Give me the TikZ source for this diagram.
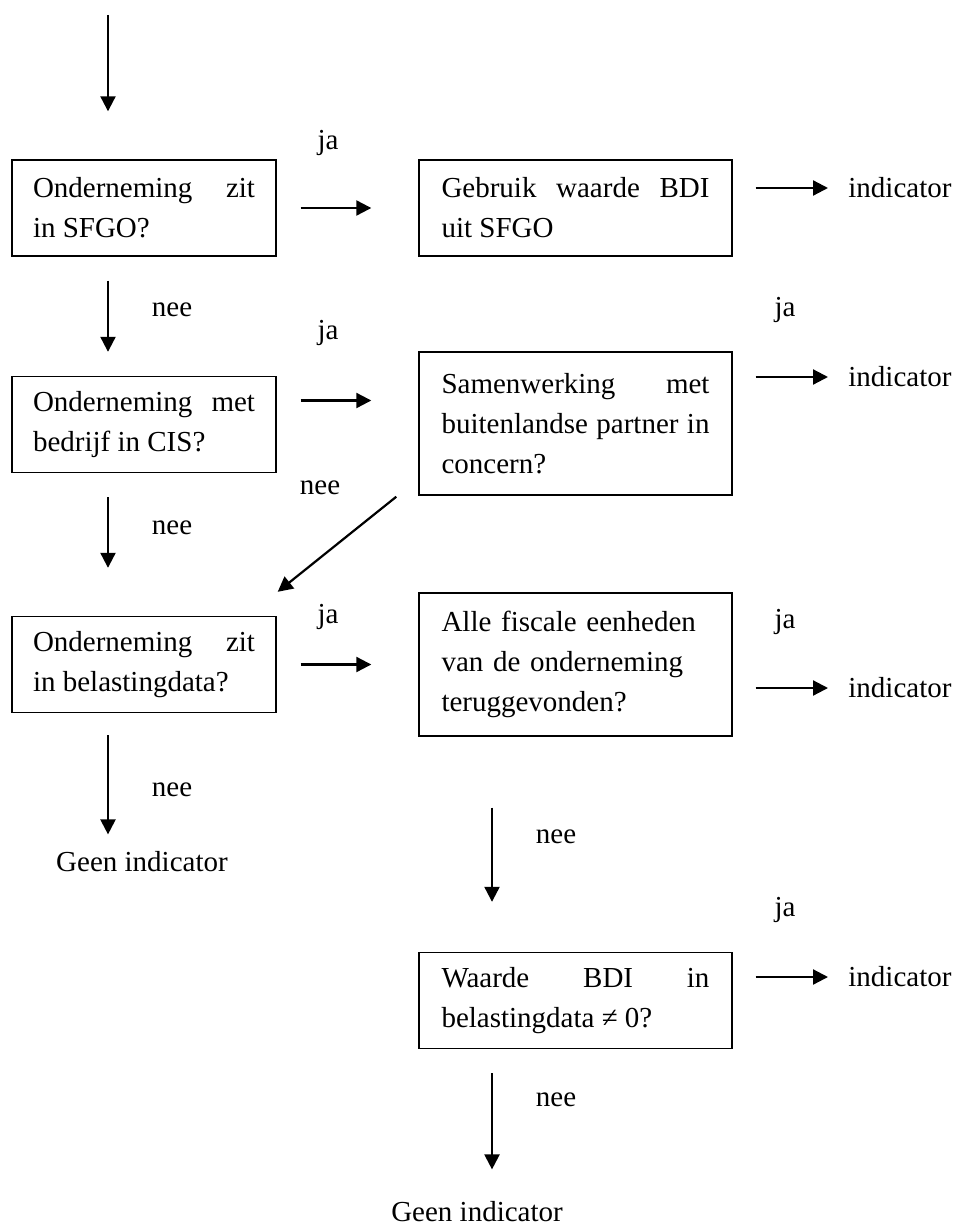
\documentclass[tikz,border=0pt]{standalone}
\usepackage{fontspec}
\setmainfont{Liberation Serif}
\usetikzlibrary{arrows.meta,calc}
\begin{document}
\begin{tikzpicture}[x=0.5pt,y=-0.5pt,font=\fontsize{14.5}{20}\selectfont,
  >={Triangle[length=7.5pt,width=7.5pt]},
  pijl/.style={->,line width=1.1pt},
  vraag/.style={draw,line width=0.7pt,align=justify,inner ysep=0pt,minimum height=48pt},
  links/.style={vraag,text width=111pt,inner xsep=10.5pt},
  rechts/.style={vraag,text width=134pt,inner xsep=11.25pt},
  hoog/.style={minimum height=71.5pt},
  tekst/.style={inner sep=0pt}]
\useasboundingbox (0,0) rectangle (956,1230);
\node[links] (b1) at (144,208) {Onderneming zit\linebreak in SFGO?};
\node[rechts] (b2) at (575.5,208) {Gebruik waarde BDI\linebreak uit SFGO};
\node[links] (b3) at (144,424.5) {Onderneming met\linebreak bedrijf in CIS?};
\node[rechts,hoog] (b4) at (575.5,423.5) {Samenwerking met\linebreak buitenlandse partner in\linebreak concern?};
\node[links] (b5) at (144,664.5) {Onderneming zit\linebreak in belastingdata?};
\node[rechts,hoog,align=left] (b6) at (575.5,664.5) {Alle fiscale eenheden\\van de onderneming\\teruggevonden?};
\node[rechts] (b7) at (575.5,1000.5) {Waarde BDI in\linebreak belastingdata ≠ 0?};
\node[tekst] (g1) at (142,862) {Geen indicator};
\node[tekst] (g2) at (477,1212) {Geen indicator};
\node[tekst,anchor=west] (i1) at (848,188) {indicator};
\node[tekst,anchor=west] (i2) at (848,377) {indicator};
\node[tekst,anchor=west] (i3) at (848,688) {indicator};
\node[tekst,anchor=west] (i4) at (848,977) {indicator};
\coordinate (start) at (108,15);
\coordinate (midden) at (492,807);
\coordinate (p3) at ($(b3.east)+(0,-24)$);
\draw[pijl,shorten >=24pt] (start) -- (b1.north -| start);
\draw[pijl,shorten <=12pt,shorten >=12pt] (b1.south -| start) -- (b3.north -| start);
\draw[pijl,shorten <=12pt,shorten >=24pt] (b3.south -| start) -- (b5.north -| start);
\draw[pijl,shorten <=11pt,shorten >=8.5pt] (b5.south -| start) -- (g1.north -| start);
\draw[pijl,shorten <=12pt,shorten >=23.5pt] (b1.east) -- (b2.west);
\draw[pijl,shorten <=12pt,shorten >=23.5pt] (p3) -- (p3 -| b4.west);
\draw[pijl,shorten <=12pt,shorten >=23.5pt] (b5.east) -- (b6.west);
\draw[pijl,shorten <=11.5pt,shorten >=10pt] (i1.west -| b2.east) -- (i1.west);
\draw[pijl,shorten <=11.5pt,shorten >=10pt] (i2.west -| b4.east) -- (i2.west);
\draw[pijl,shorten <=11.5pt,shorten >=10pt] (i3.west -| b6.east) -- (i3.west);
\draw[pijl,shorten <=11.5pt,shorten >=10pt] (i4.west -| b7.east) -- (i4.west);
\draw[pijl] ($(b4.south west)+(-22,1)$) -- ($(b5.north east)+(1,-24)$);
\draw[pijl,shorten <=35.5pt,shorten >=25pt] (b6.south -| midden) -- (b7.north -| midden);
\draw[pijl,shorten <=12pt,shorten >=16pt] (b7.south -| midden) -- (g2.north -| midden);
\node[tekst] at (328,143) {ja};
\node[tekst] at (328,333) {ja};
\node[tekst] at (328,617) {ja};
\node[tekst] at (785,310) {ja};
\node[tekst] at (785,622) {ja};
\node[tekst] at (785,910) {ja};
\node[tekst] at (172,310) {nee};
\node[tekst] at (172,528) {nee};
\node[tekst] at (172,790) {nee};
\node[tekst] at (320,488) {nee};
\node[tekst] at (556,837) {nee};
\node[tekst] at (556,1100) {nee};
\end{tikzpicture}
\end{document}
